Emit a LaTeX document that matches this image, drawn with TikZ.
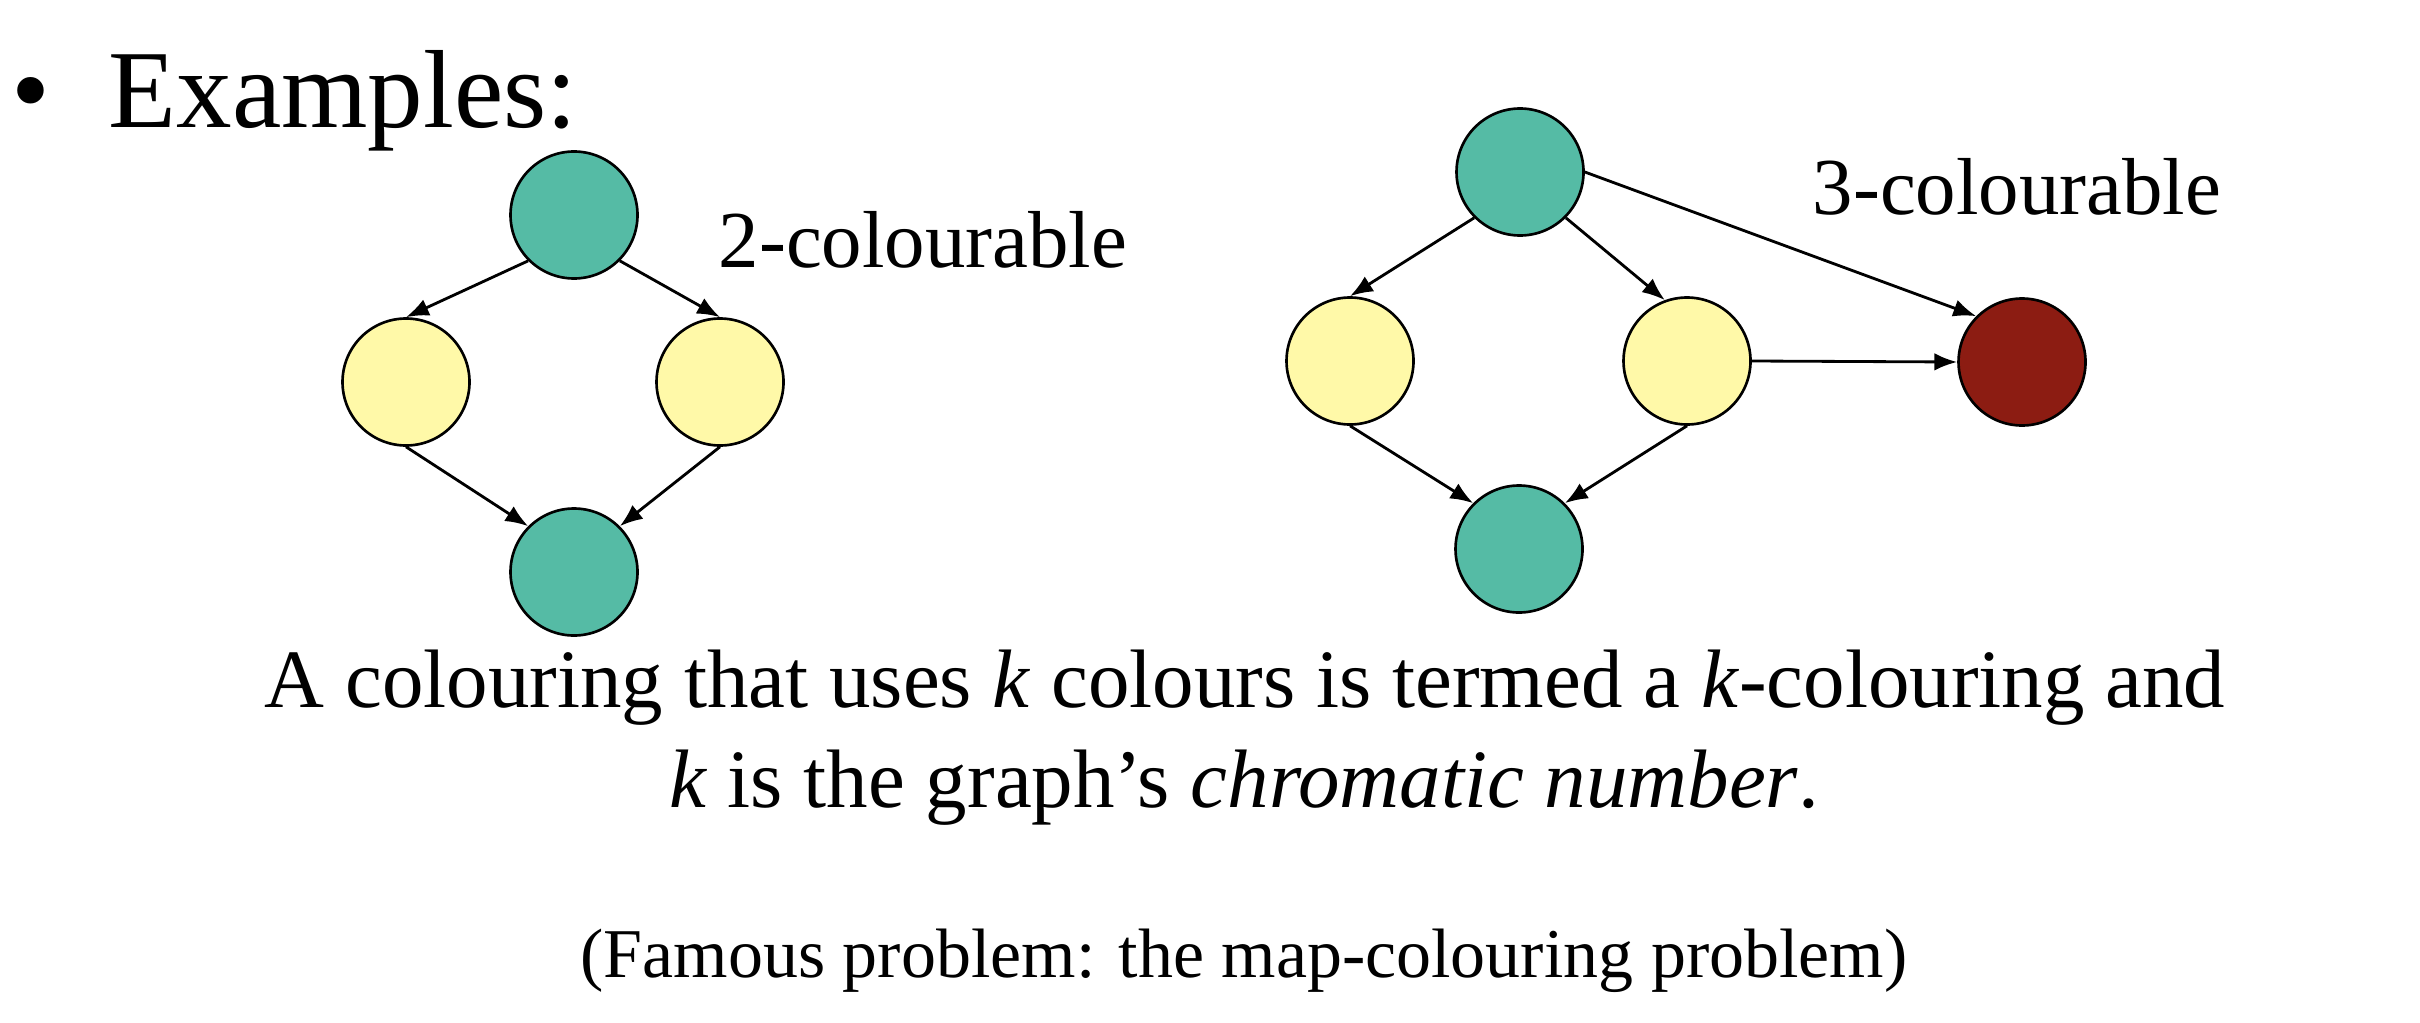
\documentclass[tikz,border=0pt]{standalone}
\usepackage{fontspec}
\setmainfont{Liberation Serif}
\usepackage{xcolor}
\usepackage{tikz}
\usetikzlibrary{arrows.meta,positioning,calc}
\definecolor{vtxteal}{HTML}{55BBA5}
\definecolor{vtxyellow}{HTML}{FFF9A8}
\definecolor{vtxred}{HTML}{8C1C12}

\begin{document}
\begin{tikzpicture}[
    vtx/.style={circle, draw=black, line width=0.75pt, inner sep=0pt, minimum size=1.27cm},
    vtx_teal/.style={vtx, fill=vtxteal},
    vtx_yellow/.style={vtx, fill=vtxyellow},
    vtx_red/.style={vtx, fill=vtxred},
    conn/.style={-{Latex[length=6.5pt,width=5pt]}, line width=0.8pt, draw=black},
    big_txt/.style={font=\fontsize{31.6}{36}\selectfont, inner sep=0pt},
    body_txt/.style={font=\fontsize{23.6}{28}\selectfont, inner sep=0pt},
    tag_txt/.style={font=\fontsize{23}{27}\selectfont, inner sep=0pt},
    note_txt/.style={font=\fontsize{19.9}{24}\selectfont, inner sep=0pt}
]
    \useasboundingbox (0,0) rectangle (24.2,-10.22);

    % Heading
    \node[big_txt, anchor=base] (bullet) at (0.31,-1.27) {\textbullet};
    \node[big_txt, anchor=base west] (heading) at (1.08,-1.27) {Examples:};

    % Left graph: 2-colourable
    \node[vtx_teal] (l_top) at (5.74,-2.15) {};
    \node[vtx_yellow] (l_left) at (4.06,-3.82) {};
    \node[vtx_yellow] (l_right) at (7.20,-3.82) {};
    \node[vtx_teal] (l_bot) at (5.74,-5.72) {};
    \node[tag_txt, anchor=base west] (l_tag) at (7.18,-2.68) {2-colourable};

    \draw[conn] (l_top.south west) -- (l_left.north);
    \draw[conn] (l_top.south east) -- (l_right.north);
    \draw[conn] (l_left.south) -- (l_bot.north west);
    \draw[conn] (l_right.south) -- (l_bot.north east);

    % Right graph: 3-colourable
    \node[vtx_teal] (r_top) at (15.20,-1.72) {};
    \node[vtx_yellow] (r_left) at (13.50,-3.61) {};
    \node[vtx_yellow] (r_mid) at (16.87,-3.61) {};
    \node[vtx_red] (r_red) at (20.22,-3.62) {};
    \node[vtx_teal] (r_bot) at (15.19,-5.49) {};
    \node[tag_txt, anchor=base west] (r_tag) at (18.12,-2.15) {3-colourable};

    \draw[conn] (r_top.south west) -- (r_left.north);
    \draw[conn] (r_top.south east) -- (r_mid.110);
    \draw[conn] (r_top.east) -- (r_red.north west);
    \draw[conn] (r_mid.east) -- (r_red.west);
    \draw[conn] (r_left.south) -- (r_bot.north west);
    \draw[conn] (r_mid.south) -- (r_bot.north east);

    % Definition
    \node[body_txt, anchor=base] (def_a) at (12.45,-7.07) {A colouring that uses \textit{k} colours is termed a \textit{k}-colouring and};
    \node[body_txt, anchor=base] (def_b) at (12.44,-8.07) {\textit{k} is the graph’s \textit{chromatic number}.};

    % Side note
    \node[note_txt, anchor=base] (note) at (12.44,-9.77) {(Famous problem: the map-colouring problem)};

\end{tikzpicture}
\end{document}
